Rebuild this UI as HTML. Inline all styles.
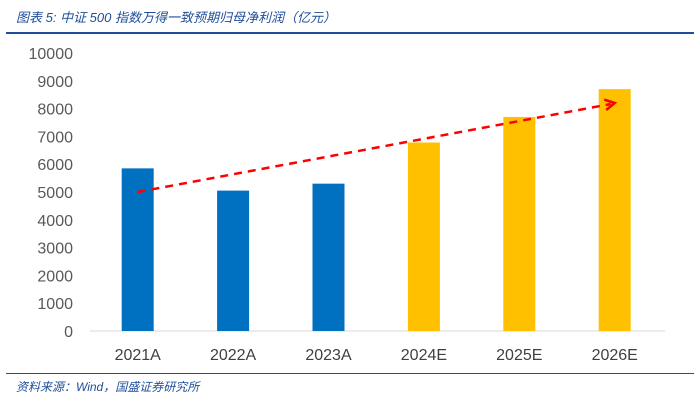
<!DOCTYPE html>
<html><head><meta charset="utf-8">
<style>
body{margin:0;background:#fff;width:700px;height:402px;overflow:hidden;font-family:"Liberation Sans","Noto Sans CJK SC",sans-serif;}
</style></head><body>
<svg width="700" height="402" xmlns="http://www.w3.org/2000/svg">
<text x="16" y="22" font-size="13" font-style="italic" fill="#1f4e99" font-family="Liberation Sans,Noto Sans CJK SC,sans-serif">图表 5:  中证 500 指数万得一致预期归母净利润（亿元）</text>
<rect x="6" y="32" width="688" height="2" fill="#1f4e99"/>
<g id="yaxis"></g>
<line x1="90" y1="331" x2="665" y2="331" stroke="#d9d9d9"/>
<g id="bars"></g>
<g id="xlabels"></g>
<g id="trend"></g>
<rect x="6" y="373" width="688" height="1" fill="#1f4e99"/>
<text x="16" y="391" font-size="12" font-style="italic" fill="#1f4e99" font-family="Liberation Sans,Noto Sans CJK SC,sans-serif">资料来源：Wind，国盛证券研究所</text>
</svg>
<script>
const categories=["2021A","2022A","2023A","2024E","2025E","2026E"];
const values=[5850,5050,5300,6780,7700,8700];
const estimated=[false,false,false,true,true,true];
const yTicks=[0,1000,2000,3000,4000,5000,6000,7000,8000,9000,10000];
const trendStart=5000, trendEnd=8200;
const NS="http://www.w3.org/2000/svg";
const y0=331,yTop=53,yMax=10000;
function y(v){return y0-(v/yMax)*(y0-yTop);}
const xL=90,step=95.4;
function x(i){return xL+step*(i+0.5);}
function mk(t,a,p){const e=document.createElementNS(NS,t);for(const k in a)e.setAttribute(k,a[k]);p.appendChild(e);return e;}
const ya=document.getElementById('yaxis');
yTicks.forEach(v=>{const t=mk('text',{x:73,y:y(v)+6,'text-anchor':'end','font-size':'16',fill:'#595959'},ya);t.textContent=v;

});
const bg=document.getElementById('bars'),xg=document.getElementById('xlabels');
categories.forEach((c,i)=>{const r=mk('rect',{x:x(i)-16,y:y(values[i]),width:32,height:y0-y(values[i]),fill:estimated[i]?'#ffc000':'#0070c0'},bg);


const t=mk('text',{x:x(i),y:360,'text-anchor':'middle','font-size':'16',fill:'#404040'},xg);t.textContent=c;

});
const tg=document.getElementById('trend');
const x1=x(0),y1=y(trendStart),x2=x(5),y2=y(trendEnd);
const ln=mk('line',{x1:x1,y1:y1,x2:x2-4,y2:y2+1,stroke:'#ff0000','stroke-width':2.5,'stroke-dasharray':'8,6'},tg);


const ang=Math.atan2(y2-y1,x2-x1);
const hl=11,p1=[x2-hl*Math.cos(ang-0.5),y2-hl*Math.sin(ang-0.5)],p2=[x2-hl*Math.cos(ang+0.5),y2-hl*Math.sin(ang+0.5)];
const hd=mk('polyline',{points:`${p1} ${x2},${y2} ${p2}`,fill:'none',stroke:'#ff0000','stroke-width':2.5},tg);


</script>
</body></html>
